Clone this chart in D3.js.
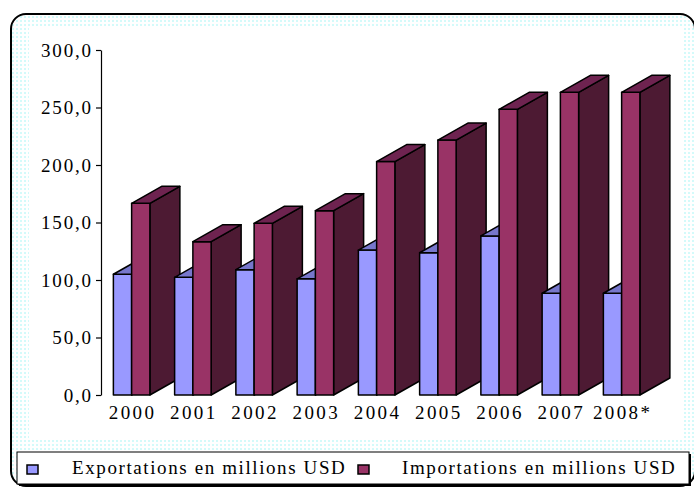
<!DOCTYPE html>
<html>
<head>
<meta charset="utf-8">
<script src="https://cdn.jsdelivr.net/npm/d3@7"></script>
<style>
  body { margin: 0; background: #fff; }
  svg { display: block; }
  text { font-family: "Liberation Serif", "Times New Roman", serif; fill: #000; }
</style>
</head>
<body>
<svg id="chart" width="694" height="488"></svg>
<script>
// Data
var years = ['2000', '2001', '2002', '2003', '2004', '2005', '2006', '2007', '2008*'];
var exportations = [105.0, 102.3, 109.0, 101.0, 126.0, 123.7, 138.3, 88.5, 88.5];
var importations = [166.7, 133.3, 149.3, 160.3, 203.0, 221.7, 248.4, 263.2, 263.2];
var yTicks = [0, 50, 100, 150, 200, 250, 300];
var seriesNames = ['Exportations en millions USD', 'Importations en millions USD'];

var svg = d3.select('#chart');

// Dotted background pattern
var pat = svg.append('defs').append('pattern')
    .attr('id', 'dots')
    .attr('width', 4).attr('height', 4)
    .attr('patternUnits', 'userSpaceOnUse');
pat.append('rect').attr('width', 4).attr('height', 4).attr('fill', '#fff');
pat.append('rect').attr('x', 0).attr('y', 0).attr('width', 2).attr('height', 2).attr('fill', '#d4fafa');

// Outer frame
svg.append('rect')
    .attr('x', 11).attr('y', 14)
    .attr('width', 684).attr('height', 472)
    .attr('rx', 15).attr('ry', 15)
    .attr('fill', 'url(#dots)')
    .attr('stroke', '#000')
    .attr('stroke-width', 2);

// Plot area
svg.append('rect')
    .attr('x', 29).attr('y', 28)
    .attr('width', 655).attr('height', 410)
    .attr('fill', '#fff');

var y = d3.scaleLinear().domain([0, 300]).range([395, 50]);
var x = d3.scaleBand().domain(years).range([101, 652.25]).padding(0);
var xs = d3.scaleBand().domain(['exp', 'imp']).range([-18.25, 18.25]);

var depthX = 30;
var depthY = 17;

var styles = {
    exp: { front: '#9999ff', top: '#7777cc', side: '#5f5fa8' },
    imp: { front: '#993366', top: '#6e2350', side: '#4d1a33' }
};

/*
 * Draw one 3D column: side, front, top faces.
 */
var drawBar = function(g, x0, w, v, st) {
    var y0 = y(0);
    var y1 = y(v);
    var x1 = x0 + w;

    g.append('path')
        .attr('d', 'M' + x1 + ',' + y1 + 'L' + (x1 + depthX) + ',' + (y1 - depthY) +
            'L' + (x1 + depthX) + ',' + (y0 - depthY) + 'L' + x1 + ',' + y0 + 'Z')
        .attr('fill', st.side);

    g.append('rect')
        .attr('x', x0).attr('y', y1)
        .attr('width', w).attr('height', y0 - y1)
        .attr('fill', st.front);

    g.append('path')
        .attr('d', 'M' + x0 + ',' + y1 + 'L' + x1 + ',' + y1 +
            'L' + (x1 + depthX) + ',' + (y1 - depthY) + 'L' + (x0 + depthX) + ',' + (y1 - depthY) + 'Z')
        .attr('fill', st.top);
}

var bars = svg.append('g')
    .attr('stroke', '#000')
    .attr('stroke-width', 1.5)
    .attr('stroke-linejoin', 'round');

years.forEach(function(yr, i) {
    var c = x(yr) + x.bandwidth() / 2;
    drawBar(bars, c + xs('exp'), xs.bandwidth(), exportations[i], styles.exp);
    drawBar(bars, c + xs('imp'), xs.bandwidth(), importations[i], styles.imp);
});

// Y axis
var yAxis = d3.axisLeft(y)
    .tickValues(yTicks)
    .tickSize(5)
    .tickSizeOuter(0)
    .tickPadding(5)
    .tickFormat(function(d) { return d3.format('.1f')(d).replace('.', ','); });

var yG = svg.append('g')
    .attr('transform', 'translate(101,0)')
    .call(yAxis);
yG.select('.domain').attr('stroke', '#000').attr('stroke-width', 1.2);
yG.selectAll('.tick line').attr('stroke', '#000').attr('stroke-width', 1.2);
yG.selectAll('.tick text')
    .attr('font-family', null)
    .attr('font-size', null)
    .style('font-size', '19px')
    .attr('letter-spacing', 1.8)
    .attr('dx', 1.8);

// X labels
svg.append('g').selectAll('text')
    .data(years)
    .enter().append('text')
    .attr('x', function(d) { return x(d) + x.bandwidth() / 2 + 1; })
    .attr('y', 419)
    .attr('text-anchor', 'middle')
    .style('font-size', '19px')
    .attr('letter-spacing', 2.4)
    .text(function(d) { return d; });

// Legend
svg.append('rect')
    .attr('x', 19).attr('y', 454)
    .attr('width', 672).attr('height', 32)
    .attr('fill', '#000');
svg.append('rect')
    .attr('x', 17).attr('y', 452)
    .attr('width', 672).attr('height', 32)
    .attr('fill', '#fff')
    .attr('stroke', '#000')
    .attr('stroke-width', 1);

var legendX = [27, 358];
var legendTextX = [72, 402];
var legendColors = [styles.exp.front, styles.imp.front];

seriesNames.forEach(function(name, i) {
    svg.append('rect')
        .attr('x', legendX[i]).attr('y', 465)
        .attr('width', 11).attr('height', 9)
        .attr('fill', legendColors[i])
        .attr('stroke', '#000')
        .attr('stroke-width', 1.5);
    svg.append('text')
        .attr('x', legendTextX[i])
        .attr('y', 474)
        .style('font-size', '19px')
        .attr('letter-spacing', 1.6)
        .text(name);
});
</script>
</body>
</html>
